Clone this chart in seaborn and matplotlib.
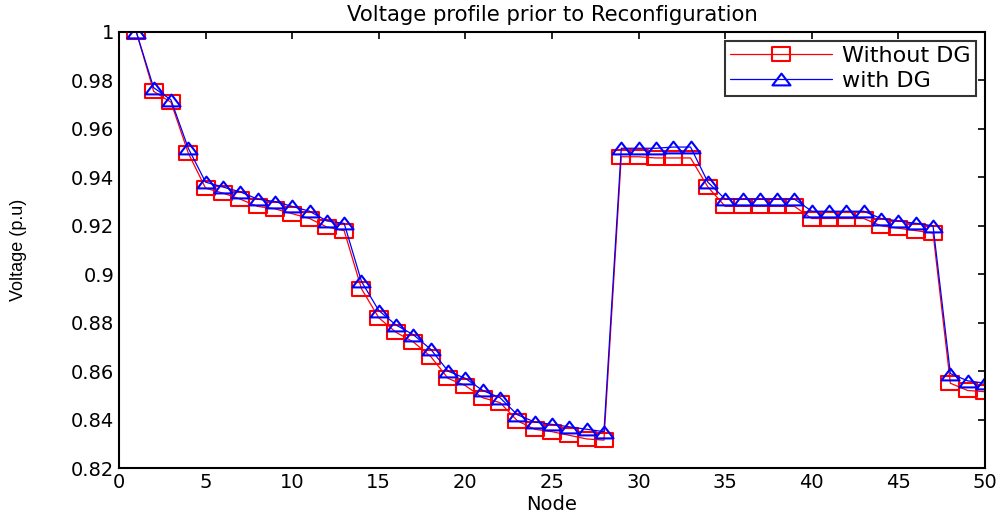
import numpy as np
import pandas as pd
import matplotlib
matplotlib.use("Agg")
import matplotlib.pyplot as plt
from matplotlib.path import Path
import seaborn as sns

nodes = list(range(1, 51))
without_dg = [1.0, 0.9755, 0.971, 0.950, 0.9355, 0.9335, 0.931, 0.928, 0.927, 0.925,
              0.923, 0.9195, 0.918, 0.894, 0.882, 0.876, 0.872, 0.866, 0.857, 0.854,
              0.849, 0.847, 0.8395, 0.836, 0.835, 0.8335, 0.832, 0.8315, 0.9485, 0.9485,
              0.948, 0.948, 0.948, 0.936, 0.928, 0.928, 0.928, 0.928, 0.928, 0.923,
              0.923, 0.923, 0.923, 0.920, 0.919, 0.918, 0.917, 0.855, 0.852, 0.8515]
with_dg = [1.0, 0.977, 0.972, 0.952, 0.938, 0.936, 0.934, 0.931, 0.930, 0.928,
           0.926, 0.922, 0.921, 0.897, 0.885, 0.879, 0.875, 0.869, 0.860, 0.857,
           0.852, 0.849, 0.842, 0.839, 0.838, 0.837, 0.836, 0.835, 0.952, 0.952,
           0.952, 0.9525, 0.9525, 0.938, 0.931, 0.931, 0.931, 0.931, 0.931, 0.926,
           0.926, 0.926, 0.926, 0.923, 0.922, 0.921, 0.920, 0.859, 0.856, 0.855]

sns.set_style("white")
plt.rcParams['font.family'] = ['DejaVu Sans']
plt.rcParams['text.color'] = 'black'
plt.rcParams['axes.labelcolor'] = 'black'

# the original picture is stretched sideways, so the markers are wider than tall
wide_square = Path([(-1.3, -1), (1.3, -1), (1.3, 1), (-1.3, 1), (-1.3, -1)], closed=True)
wide_tri = Path([(0, 0.85), (-1.3, -0.85), (1.3, -0.85), (0, 0.85)], closed=True)

fig = plt.figure(figsize=(10, 5.16), dpi=100)
ax = fig.add_axes([0.119, 0.093, 0.866, 0.845])

sns.lineplot(x=nodes, y=without_dg, ax=ax, color='red', marker=wide_square, markersize=12.3,
             mfc='none', mec='red', mew=1.5, linewidth=0.9, label='Without DG')
sns.lineplot(x=nodes, y=with_dg, ax=ax, color='blue', marker=wide_tri, markersize=13,
             mfc='none', mec='blue', mew=1.5, linewidth=0.9, label='with DG')

ax.set_xlim(0, 50)
ax.set_ylim(0.82, 1.0)
ax.set_xticks(range(0, 51, 5))
ax.set_yticks(np.arange(0.82, 1.001, 0.02))
ax.set_yticklabels(['0.82', '0.84', '0.86', '0.88', '0.9', '0.92', '0.94', '0.96', '0.98', '1'])
ax.tick_params(direction='in', top=True, right=True, length=5, width=1.2,
               labelsize=14, colors='black')
for s in ax.spines.values():
    s.set_color('black')
    s.set_linewidth(1.5)

ax.set_xlabel('Node', fontsize=14, labelpad=2)
ax.set_ylabel('Voltage (p.u)', fontsize=13, family=['Liberation Sans', 'DejaVu Sans'])
ax.yaxis.set_label_coords(-0.106, 0.5)
ax.set_title('Voltage profile prior to Reconfiguration', fontsize=15.3, pad=8)

leg = ax.legend(loc='upper right', fontsize=16, frameon=True, fancybox=False,
                edgecolor='black', handlelength=4.6, borderaxespad=0.42,
                labelspacing=0.2, borderpad=0.22, handletextpad=0.45)
leg.get_frame().set_linewidth(1.5)

fig.savefig('out.png', dpi=100)
